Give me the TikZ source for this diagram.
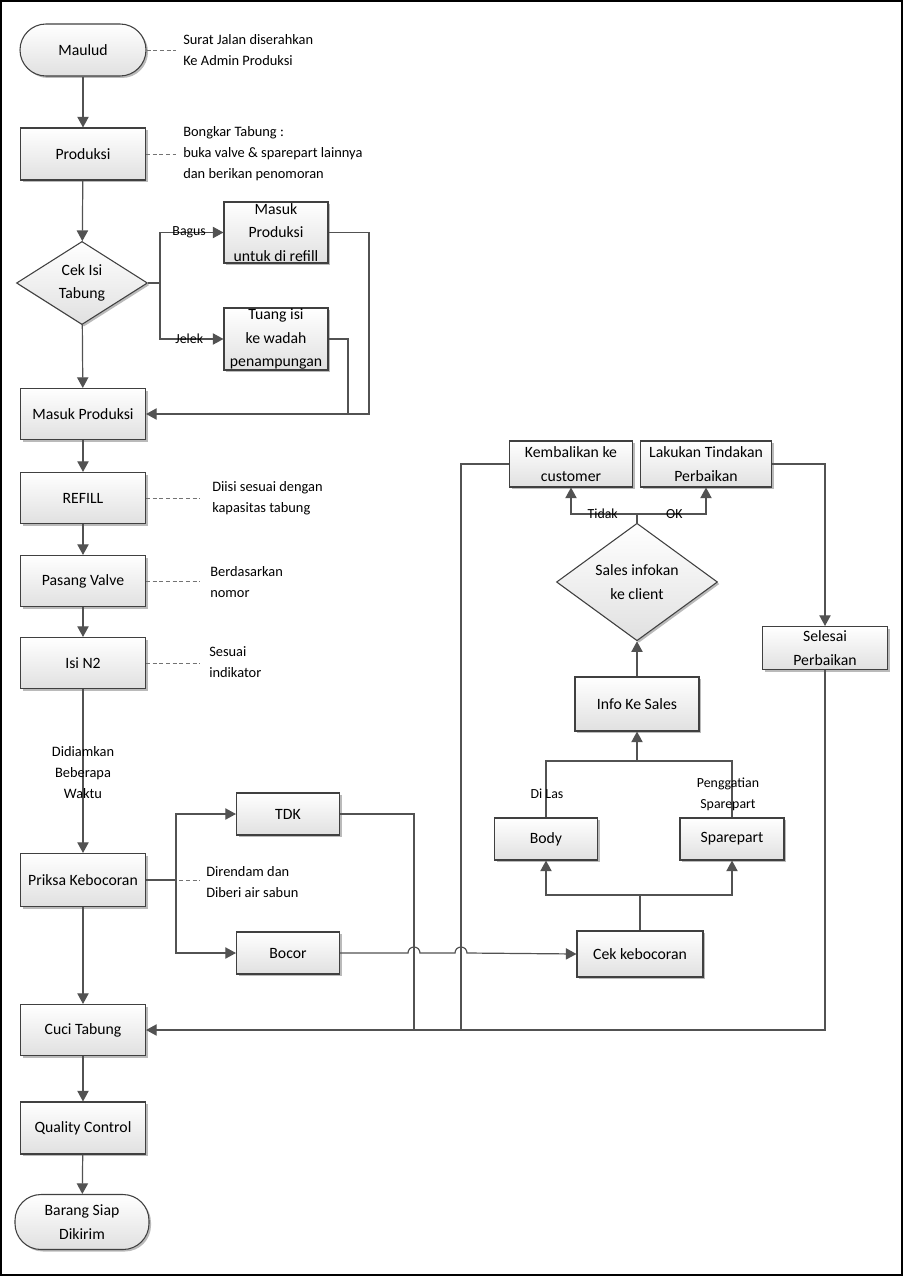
\documentclass[tikz,border=0pt]{standalone}
\usepackage{fontspec}
\setmainfont{Carlito}
\usepackage{tikz}
\usetikzlibrary{arrows.meta,shapes.geometric,shadows,positioning}

\begin{document}
\begin{tikzpicture}[x=0.75pt,y=-0.75pt,
	>={Triangle[length=8pt,width=8.5pt]},
	every node/.style={font=\fontsize{11.8}{17.5}\selectfont,align=center},
	sz/.style 2 args={minimum width=#1*0.75pt,minimum height=#2*0.75pt},
	proc/.style={draw=black!75,line width=0.8pt,top color=white,bottom color=black!12,inner sep=0pt,
		drop shadow={shadow xshift=1.5pt,shadow yshift=-1.5pt,fill=black!45,opacity=0.6}},
	term/.style={proc,rounded corners=19.5pt},
	decide/.style={proc,diamond},
	conn/.style={draw=black!68,line width=0.9pt},
	note/.style={align=left,inner sep=0pt,font=\fontsize{10.8}{15.8}\selectfont},
	lbl/.style={font=\fontsize{10.4}{15.8}\selectfont,inner sep=0pt},
	hint/.style={draw=black!55,line width=0.6pt,densely dashed}]

\useasboundingbox (0,0) rectangle (904,1277);
\draw[line width=1.4pt] (1,1) rectangle (902,1275);

% left column
\node[term,sz={126}{52}] (maulud) at (83,50) {Maulud};
\node[proc,sz={125}{52}] (produksi) at (83,154) {Produksi};
\node[decide,sz={131}{76}] (cek) at (82,283) {Cek Isi\\Tabung};
\node[proc,sz={104}{61}] (refillbox) at (276,232.5) {Masuk\\Produksi\\untuk di refill};
\node[proc,sz={104}{62}] (tuang) at (276,339) {Tuang isi\\ke wadah\\penampungan};
\node[proc,sz={125}{51}] (masuk) at (83,414) {Masuk Produksi};
\node[proc,sz={125}{51}] (refill) at (83,498) {REFILL};
\node[proc,sz={125}{51}] (valve) at (83,581) {Pasang Valve};
\node[proc,sz={125}{51}] (isin) at (83,663) {Isi N2};
\node[proc,sz={125}{53}] (priksa) at (83,880) {Priksa Kebocoran};
\node[proc,sz={103}{42}] (tdk) at (288,814) {TDK};
\node[proc,sz={103}{42}] (bocor) at (288,953) {Bocor};
\node[proc,sz={125}{51}] (cuci) at (83,1030) {Cuci Tabung};
\node[proc,sz={125}{52}] (qc) at (83,1128) {Quality Control};
\node[term,sz={134}{55}] (siap) at (82,1222) {Barang Siap\\Dikirim};

% right part
\node[proc,sz={126}{46}] (cekbocor) at (640,954) {Cek kebocoran};
\node[proc,sz={103}{42}] (body) at (546,839) {Body};
\node[proc,sz={104}{42}] (spare) at (732,839) {Sparepart};
\node[proc,sz={124}{54}] (info) at (637,704) {Info Ke Sales};
\node[decide,sz={161}{92}] (sales) at (637,582) {Sales infokan\\ke client};
\node[proc,sz={123}{46}] (kembali) at (571,464) {Kembalikan ke\\customer};
\node[proc,sz={131}{46}] (lakukan) at (706,464) {Lakukan Tindakan\\Perbaikan};
\node[proc,sz={125}{43}] (selesai) at (825,648) {Selesai\\Perbaikan};

% notes
\node[note,anchor=west] (nmaulud) at (183,50) {Surat Jalan diserahkan\\Ke Admin Produksi};
\node[note,anchor=west] (nproduksi) at (183,154) {Bongkar Tabung :\\buka valve \& sparepart lainnya\\dan berikan penomoran};
\node[note,anchor=west] (nrefill) at (212,498) {Diisi sesuai dengan\\kapasitas tabung};
\node[note,anchor=west] (nvalve) at (210,582) {Berdasarkan\\nomor};
\node[note,anchor=west] (nisin) at (209,662) {Sesuai\\indikator};
\node[note,anchor=west] (npriksa) at (206,882) {Direndam dan\\Diberi air sabun};

\coordinate (hmaulud) at (176,50);
\coordinate (hproduksi) at (176,154);
\coordinate (hrefill) at (200,498);
\coordinate (hvalve) at (200,581);
\coordinate (hisin) at (200,663);
\coordinate (hpriksa) at (200,880);
\draw[hint] (maulud.east) -- (hmaulud);
\draw[hint] (produksi.east) -- (hproduksi);
\draw[hint] (refill.east) -- (hrefill);
\draw[hint] (valve.east) -- (hvalve);
\draw[hint] (isin.east) -- (hisin);
\draw[hint] (priksa.east) -- (hpriksa);

% branch points
\coordinate (split1) at (160,283);
\coordinate (back1) at (369,414);
\coordinate (back2) at (348,414);
\coordinate (split2) at (176,880);
\coordinate (join2) at (414,1030);
\coordinate (split3) at (640,895);
\coordinate (join4) at (637,761);
\coordinate (split5) at (637,514);
\coordinate (join5) at (461,1030);
\coordinate (back5) at (825,1030);

\draw[conn,->] (maulud) -- (produksi);
\draw[conn,->] (produksi) -- (cek);
\draw[conn] (cek.east) -- (split1);
\draw[conn,->] (split1) |- node[lbl,pos=0.73] {Bagus} (refillbox.west);
\draw[conn,->] (split1) |- node[lbl,pos=0.73] {Jelek} (tuang.west);
\draw[conn,->] (cek) -- (masuk);
\draw[conn,->] (refillbox.east) -| (back1) -- (masuk.east);
\draw[conn] (tuang.east) -| (back2);
\draw[conn,->] (masuk) -- (refill);
\draw[conn,->] (refill) -- (valve);
\draw[conn,->] (valve) -- (isin);
\draw[conn,->] (isin) -- node[note,align=center,pos=0.51] {Didiamkan\\Beberapa\\Waktu} (priksa);
\draw[conn] (priksa.east) -- (split2);
\draw[conn,->] (split2) |- (tdk.west);
\draw[conn,->] (split2) |- (bocor.west);
\draw[conn] (tdk.east) -| (join2);
\draw[conn,->] (bocor.east) -- (408,953) arc[start angle=180,end angle=360,radius=6]
	-- (455,953) arc[start angle=180,end angle=360,radius=6] -- (cekbocor.west);
\draw[conn] (cekbocor.north) -- (split3);
\draw[conn,->] (split3) -| (body.south);
\draw[conn,->] (split3) -| (spare.south);
\draw[conn] (body.north) |- (join4);
\draw[conn] (spare.north) |- (join4);
\node[lbl] (lbody) at (547,794) {Di Las};
\node[lbl] (lspare) at (728,794) {Penggatian\\Sparepart};
\draw[conn,->] (join4) -- (info.south);
\draw[conn,->] (info) -- (sales);
\draw[conn] (sales.north) -- (split5);
\draw[conn,->] (split5) -| node[lbl,pos=0.26] {Tidak} (kembali.south);
\draw[conn,->] (split5) -| node[lbl,pos=0.27] {OK} (lakukan.south);
\draw[conn] (kembali.west) -| (join5);
\draw[conn,->] (lakukan.east) -| (selesai.north);
\draw[conn,->] (selesai.south) -- (back5) -- (cuci.east);
\draw[conn,->] (priksa) -- (cuci);
\draw[conn,->] (cuci) -- (qc);
\draw[conn,->] (qc) -- (siap);

\end{tikzpicture}
\end{document}
